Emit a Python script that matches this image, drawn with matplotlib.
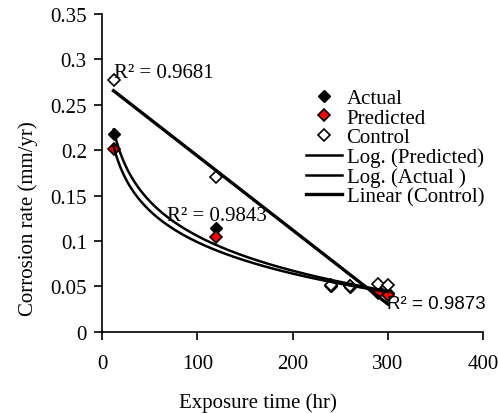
import numpy as np
import matplotlib
matplotlib.use('Agg')
import matplotlib.pyplot as plt

# exposure time (hr)
hours = [12, 120, 240, 260, 290, 300]
actual = [0.218, 0.114, 0.050, 0.049, 0.046, 0.043]
predicted = [0.201, 0.104, 0.051, 0.050, 0.043, 0.041]
control = [0.277, 0.170, 0.052, 0.051, 0.053, 0.052]

r2_labels = ['R\u00b2 = 0.9681', 'R\u00b2 = 0.9843', 'R\u00b2 = 0.9873']
xticks = [0, 100, 200, 300, 400]
yticks = [0, 0.05, 0.1, 0.15, 0.2, 0.25, 0.3, 0.35]

plt.rcParams['font.family'] = ['Liberation Serif', 'DejaVu Serif']
plt.rcParams['font.size'] = 15

fig = plt.figure(figsize=(4.98, 4.14), dpi=100)
ax = fig.add_axes([0.205, 0.196, 0.765, 0.768])

x = np.array(hours, dtype=float)
xs = np.linspace(x.min(), x.max(), 200)

# trendlines fitted to the data (as the spreadsheet does)
a_p, b_p = np.polyfit(np.log(x), predicted, 1)
a_a, b_a = np.polyfit(np.log(x), actual, 1)
m_c, c_c = np.polyfit(x, control, 1)

ax.plot(x, actual, linestyle='none', marker='D', ms=6.5,
        mfc='black', mec='black', label='Actual')
ax.plot(x, predicted, linestyle='none', marker='D', ms=6.5,
        mfc='red', mec='black', mew=1.2, label='Predicted')
ax.plot(x, control, linestyle='none', marker='D', ms=6.5,
        mfc='white', mec='black', mew=1.2, label='Control')

ax.plot(xs, a_p * np.log(xs) + b_p, color='black', lw=1.8,
        label='Log. (Predicted)')
ax.plot(xs, a_a * np.log(xs) + b_a, color='black', lw=1.8,
        label='Log. (Actual )')
ax.plot(xs, m_c * xs + c_c, color='black', lw=2.4,
        label='Linear (Control)')

# R-squared labels
ax.text(13, 0.286, r2_labels[0], va='center', ha='left')
ax.text(68, 0.128, r2_labels[1], va='center', ha='left')
ax.text(299, 0.031, r2_labels[2], va='center', ha='left',
        family='Liberation Sans', fontsize=13.5)

ax.set_xlim(0, 400)
ax.set_ylim(0, 0.35)
ax.set_xticks(xticks)
ax.set_yticks(yticks)
ax.set_xticklabels([str(t) for t in xticks])
ax.set_yticklabels(['0', '0.05', '0.1', '0.15', '0.2', '0.25', '0.3', '0.35'])
ax.tick_params(direction='out', length=6, width=1.2)
ax.tick_params(axis='x', pad=10)
ax.tick_params(axis='y', pad=5)

for side in ['top', 'right']:
    ax.spines[side].set_visible(False)
for side in ['left', 'bottom']:
    ax.spines[side].set_linewidth(1.2)

ax.set_xlabel('Exposure time (hr)')
ax.set_ylabel('Corrosion rate (mm/yr)')
ax.xaxis.set_label_coords(0.41, -0.19)
ax.yaxis.set_label_coords(-0.168, 0.36)

ax.legend(loc='upper left', bbox_to_anchor=(0.535, 0.765), frameon=False,
          handlelength=1.75, handletextpad=0.2, labelspacing=0.0,
          borderpad=0, borderaxespad=0)

fig.savefig('out.png', dpi=100)
